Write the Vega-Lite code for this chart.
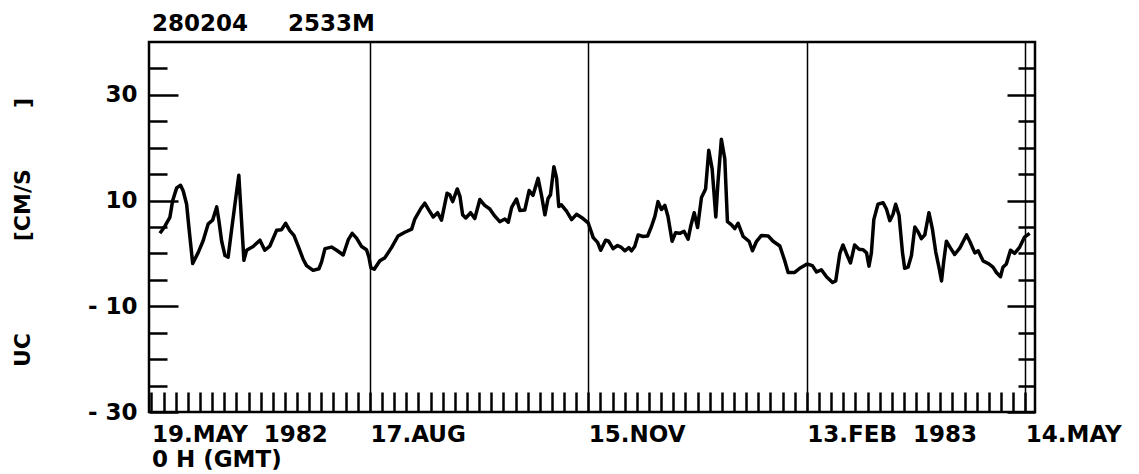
{
  "$schema": "https://vega.github.io/schema/vega-lite/v6.json",
  "autosize": {"type": "none"},
  "width": 886,
  "height": 370,
  "padding": {"left": 149, "top": 42, "right": 104, "bottom": 62},
  "background": "white",
  "config": {"view": {"stroke": "black", "strokeWidth": 2.5}, "font": "DejaVu Sans"},
  "title": {"text": "280204\u00a0\u00a0\u00a0\u00a0\u00a02533M", "anchor": "start", "frame": "group", "offset": 12, "baseline": "alphabetic", "dx": 3, "dy": 24, "fontSize": 23, "fontWeight": "bold", "font": "DejaVu Sans", "color": "black"},
  "layer": [
    {
      "data": {"values": [
        {"day":3.5,"uc":3.8},{"day":5.5,"uc":5.1},{"day":7.6,"uc":6.8},{"day":8.7,"uc":9.9},{"day":10.4,"uc":12.4},{"day":12.0,"uc":12.9},{"day":13.1,"uc":11.8},{"day":14.5,"uc":9.3},{"day":15.6,"uc":4.2},{"day":17.0,"uc":-1.9},
        {"day":19.3,"uc":0.2},{"day":21.3,"uc":2.4},{"day":23.4,"uc":5.6},{"day":25.2,"uc":6.3},{"day":26.9,"uc":8.8},{"day":27.8,"uc":6.2},{"day":28.9,"uc":2.4},{"day":30.3,"uc":-0.4},{"day":31.6,"uc":-0.7},{"day":33.0,"uc":4.4},
        {"day":34.8,"uc":10.7},{"day":36.0,"uc":14.8},{"day":37.1,"uc":6.3},{"day":38.1,"uc":-1.3},{"day":39.2,"uc":0.6},{"day":41.9,"uc":1.3},{"day":44.7,"uc":2.5},{"day":46.7,"uc":0.6},{"day":48.8,"uc":1.4},{"day":51.6,"uc":4.4},
        {"day":53.6,"uc":4.5},{"day":55.3,"uc":5.7},{"day":57.0,"uc":4.3},{"day":58.7,"uc":3.4},{"day":60.7,"uc":1.1},{"day":62.5,"uc":-1.1},{"day":63.9,"uc":-2.3},{"day":66.6,"uc":-3.2},{"day":69.0,"uc":-2.9},{"day":70.1,"uc":-1.6},
        {"day":71.5,"uc":0.9},{"day":74.2,"uc":1.2},{"day":76.3,"uc":0.6},{"day":79.0,"uc":-0.3},{"day":81.1,"uc":2.6},{"day":82.7,"uc":3.8},{"day":84.5,"uc":2.9},{"day":86.6,"uc":1.3},{"day":88.6,"uc":0.7},{"day":89.6,"uc":-0.7},
        {"day":90.4,"uc":-2.7},{"day":91.8,"uc":-3.0},{"day":94.1,"uc":-1.4},{"day":96.2,"uc":-0.8},{"day":98.9,"uc":1.1},{"day":101.6,"uc":3.3},{"day":104.4,"uc":4.0},{"day":107.2,"uc":4.6},{"day":108.5,"uc":6.5},{"day":111.0,"uc":8.5},
        {"day":112.6,"uc":9.5},{"day":114.3,"uc":8.2},{"day":116.1,"uc":6.9},{"day":117.9,"uc":7.7},{"day":119.5,"uc":6.3},{"day":121.8,"uc":11.4},{"day":122.9,"uc":11.1},{"day":124.1,"uc":9.8},{"day":126.0,"uc":12.2},{"day":127.1,"uc":10.8},
        {"day":128.2,"uc":7.3},{"day":129.5,"uc":6.7},{"day":131.5,"uc":7.7},{"day":133.2,"uc":6.6},{"day":135.3,"uc":10.2},{"day":137.3,"uc":9.1},{"day":139.4,"uc":8.4},{"day":141.4,"uc":7.1},{"day":143.5,"uc":6.0},{"day":145.6,"uc":6.5},
        {"day":147.0,"uc":5.9},{"day":148.4,"uc":8.7},{"day":150.4,"uc":10.3},{"day":151.8,"uc":8.1},{"day":153.8,"uc":8.2},{"day":155.6,"uc":11.9},{"day":157.2,"uc":11.0},{"day":159.3,"uc":14.2},{"day":160.7,"uc":11.0},{"day":162.1,"uc":7.3},
        {"day":163.4,"uc":10.4},{"day":164.4,"uc":11.1},{"day":165.8,"uc":16.4},{"day":166.9,"uc":14.3},{"day":167.8,"uc":8.9},{"day":168.9,"uc":9.2},{"day":171.0,"uc":8.0},{"day":173.1,"uc":6.4},{"day":175.1,"uc":7.4},{"day":177.2,"uc":6.8},
        {"day":179.9,"uc":5.8},{"day":180.6,"uc":4.9},{"day":182.0,"uc":3.0},{"day":183.8,"uc":2.1},{"day":185.1,"uc":0.6},{"day":187.1,"uc":2.5},{"day":188.4,"uc":2.3},{"day":190.2,"uc":0.9},{"day":192.0,"uc":1.5},{"day":193.4,"uc":1.2},
        {"day":195.0,"uc":0.5},{"day":196.7,"uc":1.1},{"day":197.8,"uc":0.5},{"day":199.1,"uc":1.3},{"day":200.5,"uc":3.5},{"day":202.5,"uc":3.2},{"day":204.4,"uc":3.3},{"day":206.0,"uc":5.1},{"day":207.4,"uc":7.0},{"day":208.7,"uc":9.8},
        {"day":210.1,"uc":8.3},{"day":211.5,"uc":9.1},{"day":212.8,"uc":7.0},{"day":214.5,"uc":2.3},{"day":215.9,"uc":3.9},{"day":217.7,"uc":3.8},{"day":219.4,"uc":4.2},{"day":221.1,"uc":2.7},{"day":222.2,"uc":5.2},{"day":223.6,"uc":7.7},
        {"day":225.0,"uc":4.9},{"day":226.6,"uc":10.6},{"day":228.3,"uc":12.2},{"day":229.6,"uc":19.5},{"day":231.0,"uc":16.0},{"day":232.5,"uc":6.9},{"day":233.4,"uc":13.5},{"day":234.8,"uc":21.6},{"day":236.2,"uc":17.9},{"day":237.3,"uc":6.0},
        {"day":239.0,"uc":5.4},{"day":240.3,"uc":4.7},{"day":241.7,"uc":5.7},{"day":243.8,"uc":3.2},{"day":246.2,"uc":2.3},{"day":247.6,"uc":0.5},{"day":249.3,"uc":2.3},{"day":251.3,"uc":3.4},{"day":254.1,"uc":3.3},{"day":256.1,"uc":2.3},
        {"day":258.9,"uc":1.4},{"day":260.9,"uc":-1.4},{"day":262.3,"uc":-3.6},{"day":265.0,"uc":-3.6},{"day":267.1,"uc":-2.8},{"day":270.1,"uc":-2.0},{"day":272.3,"uc":-2.3},{"day":274.0,"uc":-3.5},{"day":276.0,"uc":-3.1},{"day":278.1,"uc":-4.4},
        {"day":280.6,"uc":-5.5},{"day":281.9,"uc":-5.2},{"day":283.6,"uc":0.0},{"day":284.9,"uc":1.6},{"day":286.3,"uc":0.0},{"day":288.0,"uc":-1.8},{"day":289.7,"uc":1.6},{"day":291.5,"uc":0.8},{"day":293.2,"uc":0.7},{"day":294.6,"uc":0.1},
        {"day":295.6,"uc":-2.4},{"day":296.6,"uc":0.1},{"day":297.6,"uc":6.4},{"day":299.3,"uc":9.3},{"day":301.4,"uc":9.6},{"day":302.8,"uc":8.4},{"day":304.2,"uc":6.2},{"day":305.5,"uc":7.4},{"day":306.6,"uc":9.3},{"day":308.0,"uc":7.2},
        {"day":309.4,"uc":0.2},{"day":310.3,"uc":-2.8},{"day":311.7,"uc":-2.6},{"day":313.1,"uc":-0.4},{"day":314.5,"uc":5.0},{"day":315.8,"uc":4.1},{"day":317.2,"uc":2.8},{"day":318.6,"uc":3.5},{"day":320.3,"uc":7.7},{"day":321.7,"uc":4.7},
        {"day":323.1,"uc":0.3},{"day":324.5,"uc":-2.8},{"day":325.5,"uc":-5.2},{"day":326.4,"uc":-1.5},{"day":327.5,"uc":2.3},{"day":329.2,"uc":1.0},{"day":330.9,"uc":-0.2},{"day":333.0,"uc":1.0},{"day":335.8,"uc":3.5},{"day":337.1,"uc":2.3},
        {"day":339.2,"uc":0.1},{"day":340.6,"uc":0.5},{"day":342.6,"uc":-1.4},{"day":344.7,"uc":-1.9},{"day":346.7,"uc":-2.6},{"day":348.1,"uc":-3.6},{"day":349.8,"uc":-4.4},{"day":350.8,"uc":-2.6},{"day":352.2,"uc":-2.0},{"day":353.9,"uc":0.6},
        {"day":355.6,"uc":0.0},{"day":357.7,"uc":1.2},{"day":359.7,"uc":3.1},{"day":361.8,"uc":3.8}
      ]},
      "mark": {"type": "line", "color": "black", "strokeWidth": 3.5, "strokeJoin": "round"},
      "encoding": {
        "x": {
          "field": "day", "type": "quantitative",
          "scale": {"domain": [-1, 364], "nice": false, "zero": false},
          "axis": {
            "orient": "bottom",
            "values": [0,5,10,15,20,25,30,35,40,45,50,55,60,65,70,75,80,85,90,95,100,105,110,115,120,125,130,135,140,145,150,155,160,165,170,175,180,185,190,195,200,205,210,215,220,225,230,235,240,245,250,255,260,265,270,275,280,285,290,295,300,305,310,315,320,325,330,335,340,345,350,355,360],
            "domain": false,
            "ticks": true, "tickSize": -20, "tickWidth": 2.5, "tickColor": "black",
            "grid": true, "gridColor": "black", "gridWidth": 1.5,
            "gridOpacity": {"condition": {"test": "datum.value % 90 === 0 && datum.value > 0", "value": 1}, "value": 0},
            "labelExpr": "datum.value === 0 ? ['19.MAY\u00a0\u00a01982', '0 H (GMT)'] : datum.value === 90 ? '17.AUG' : datum.value === 180 ? '15.NOV' : datum.value === 270 ? '13.FEB\u00a0\u00a01983' : datum.value === 360 ? '14.MAY' : ''",
            "labelAlign": "left", "labelBaseline": "top", "labelPadding": 31,
            "labelFont": "DejaVu Sans", "labelFontSize": 23, "labelFontWeight": "bold", "labelColor": "black",
            "labelLineHeight": 25, "labelOverlap": false, "labelFlush": false, "labelBound": false,
            "title": null
          }
        },
        "y": {
          "field": "uc", "type": "quantitative",
          "scale": {"domain": [-30, 40], "nice": false, "zero": false},
          "axis": {
            "orient": "left",
            "values": [-30,-25,-20,-15,-10,-5,0,5,10,15,20,25,30,35],
            "domain": false, "grid": false,
            "tickSize": {"condition": {"test": "datum.value % 20 === 10 || datum.value % 20 === -10", "value": -29}, "value": -18},
            "tickWidth": 2.5, "tickColor": "black",
            "labelExpr": "datum.value === 30 ? '30' : datum.value === 10 ? '10' : datum.value === -10 ? '-\u00a010' : datum.value === -30 ? '-\u00a030' : ''",
            "labelPadding": 41, "labelAlign": "right", "labelBaseline": "middle",
            "labelFont": "DejaVu Sans", "labelFontSize": 23, "labelFontWeight": "bold", "labelColor": "black",
            "labelOverlap": false, "labelFlush": false, "labelBound": false,
            "title": "UC\u00a0\u00a0\u00a0\u00a0\u00a0\u00a0\u00a0\u00a0\u00a0\u00a0\u00a0\u00a0[CM/S\u00a0\u00a0\u00a0\u00a0\u00a0\u00a0\u00a0\u00a0]",
            "titleFont": "DejaVu Sans", "titleFontSize": 22, "titleFontWeight": "bold", "titleColor": "black",
            "titleAngle": -90, "titleX": -127, "titleY": 190, "titleAlign": "center", "titleBaseline": "middle"
          }
        }
      }
    },
    {
      "data": {"values": []},
      "mark": {"type": "point", "opacity": 0},
      "encoding": {
        "x": {"field": "day", "type": "quantitative", "axis": null},
        "y": {
          "field": "uc", "type": "quantitative",
          "axis": {
            "orient": "right",
            "values": [-30,-25,-20,-15,-10,-5,0,5,10,15,20,25,30,35],
            "domain": false, "grid": false, "labels": false,
            "tickSize": {"condition": {"test": "datum.value % 20 === 10 || datum.value % 20 === -10", "value": -28}, "value": -17},
            "tickWidth": 2.5, "tickColor": "black",
            "title": null
          }
        }
      }
    }
  ],
  "resolve": {"axis": {"x": "independent", "y": "independent"}}
}
